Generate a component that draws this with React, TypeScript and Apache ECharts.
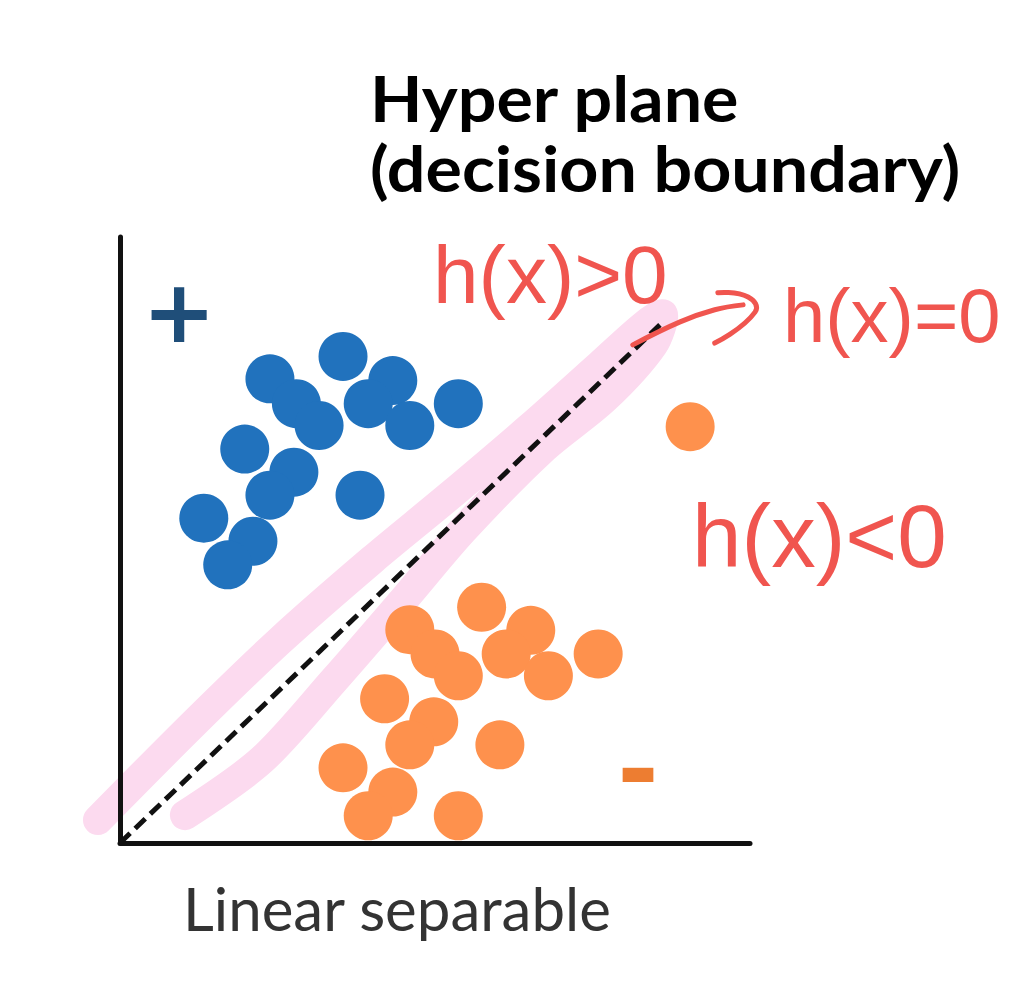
import React, { useEffect, useRef } from "react";
import * as echarts from "echarts";

// Positive class (+), blue
const positiveX = [3.54, 2.38, 4.33, 2.8, 3.94, 3.16, 5.37, 4.6, 1.98, 2.76, 2.38, 3.81, 1.33, 2.11, 1.71];
const positiveY = [8.03, 7.66, 7.63, 7.25, 7.25, 6.89, 7.25, 6.89, 6.5, 6.12, 5.74, 5.74, 5.36, 4.98, 4.59];

// Negative class (-), orange
const negativeX = [9.05, 5.74, 4.6, 6.52, 5.0, 6.13, 7.59, 5.37, 6.8, 4.2, 4.98, 4.6, 6.03, 3.54, 4.33, 3.94, 5.37];
const negativeY = [6.87, 3.89, 3.52, 3.51, 3.12, 3.12, 3.12, 2.76, 2.76, 2.38, 2.0, 1.62, 1.62, 1.24, 0.84, 0.45, 0.45];

// Decision boundary h(x) = 0
const boundaryX = [0, 8.57];
const boundaryY = [0, 8.55];

// Pink hand-drawn highlight around the boundary
const highlightX = [-0.35, 1.15, 2.55, 4.0, 5.2, 6.5, 7.62, 8.33, 8.62, 8.46, 7.7, 6.7, 5.45, 4.5, 3.4, 2.25, 1.03];
const highlightY = [0.38, 1.95, 3.35, 4.67, 5.7, 6.85, 7.89, 8.55, 8.72, 8.22, 7.34, 6.49, 5.17, 4.01, 2.69, 1.37, 0.46];

// Red hand-written arrow (shaft and head), in data units
const arrowShaftX = [8.14, 8.89, 9.44, 9.89];
const arrowShaftY = [8.22, 8.6, 8.8, 8.88];
const arrowHeadX = [9.49, 9.97, 10.08, 9.44];
const arrowHeadY = [9.08, 9.01, 8.76, 8.25];

const titleLines = ["Hyper plane", "(decision boundary)"];
const xLabel = "Linear separable";
const annotations = ["h(x)>0", "h(x)=0", "h(x)<0"];

const zip = (xs: number[], ys: number[]) => xs.map((x, i) => [x, ys[i]]);

export default function App() {
  const ref = useRef<HTMLDivElement>(null);
  useEffect(() => {
    const chart = echarts.init(ref.current!, null, { renderer: "svg" });
    const red = "#F0554F";
    const axisStyle = {
      type: "value",
      min: 0,
      max: 10,
      z: 2,
      axisLine: { show: true, onZero: false, lineStyle: { color: "#111", width: 5 } },
      axisTick: { show: false },
      axisLabel: { show: false },
      splitLine: { show: false },
    };
    chart.setOption({
      animation: false,
      backgroundColor: "#ffffff",
      grid: { left: 120, top: 237, width: 630, height: 606 },
      xAxis: { ...axisStyle },
      yAxis: { ...axisStyle },
      series: [
        {
          name: "boundary",
          type: "line",
          data: zip(boundaryX, boundaryY),
          symbol: "none",
          z: 3,
          lineStyle: { color: "#111", width: 5, type: [14, 7] },
        },
        {
          name: "positive",
          type: "scatter",
          data: zip(positiveX, positiveY),
          symbolSize: 49,
          z: 4,
          itemStyle: { color: "#2172BD", opacity: 1 },
        },
        {
          name: "negative",
          type: "scatter",
          data: zip(negativeX, negativeY),
          symbolSize: 49,
          z: 4,
          itemStyle: { color: "#FE914D", opacity: 1 },
        },
      ],
    });

    const toPx = (xs: number[], ys: number[]) =>
      zip(xs, ys).map((p) => chart.convertToPixel({ gridIndex: 0 }, p) as number[]);

    chart.setOption({
      graphic: [
        {
          type: "polyline",
          z: 1,
          shape: { points: toPx(highlightX, highlightY), smooth: 0.3 },
          style: { stroke: "#FCDAEF", lineWidth: 30, fill: "none", lineCap: "round", lineJoin: "round" },
        },
        {
          type: "text",
          x: 370,
          y: 97,
          z: 10,
          scaleX: 1.065,
          style: { text: titleLines[0], fontFamily: "Lato", fontWeight: "bold", fontSize: 64, fill: "#000", verticalAlign: "middle" },
        },
        {
          type: "text",
          x: 370,
          y: 167,
          z: 10,
          scaleX: 1.065,
          style: { text: titleLines[1], fontFamily: "Lato", fontWeight: "bold", fontSize: 64, fill: "#000", verticalAlign: "middle" },
        },
        {
          type: "text",
          x: 183,
          y: 908,
          z: 10,
          style: { text: xLabel, fontFamily: "Lato", fontSize: 60, fill: "#333", verticalAlign: "middle" },
        },
        {
          type: "text",
          x: 179,
          y: 311,
          z: 10,
          style: { text: "+", fontFamily: "DejaVu Sans", fontWeight: "bold", fontSize: 88, fill: "#1F4E79", align: "center", verticalAlign: "middle" },
        },
        {
          type: "text",
          x: 638,
          y: 769,
          z: 10,
          style: { text: "-", fontFamily: "DejaVu Sans", fontWeight: "bold", fontSize: 100, fill: "#ED7D31", align: "center", verticalAlign: "middle" },
        },
        {
          type: "text",
          x: 433,
          y: 274,
          z: 10,
          style: { text: annotations[0], fontFamily: "Liberation Sans", fontSize: 82, fill: red, verticalAlign: "middle" },
        },
        {
          type: "text",
          x: 783,
          y: 315,
          z: 10,
          style: { text: annotations[1], fontFamily: "Liberation Sans", fontSize: 76, fill: red, verticalAlign: "middle" },
        },
        {
          type: "text",
          x: 692,
          y: 536,
          z: 10,
          style: { text: annotations[2], fontFamily: "Liberation Sans", fontSize: 89, fill: red, verticalAlign: "middle" },
        },
        {
          type: "polyline",
          z: 10,
          shape: { points: toPx(arrowShaftX, arrowShaftY), smooth: 0.4 },
          style: { stroke: red, lineWidth: 5, fill: "none", lineCap: "round", lineJoin: "round" },
        },
        {
          type: "polyline",
          z: 10,
          shape: { points: toPx(arrowHeadX, arrowHeadY), smooth: 0.5 },
          style: { stroke: red, lineWidth: 5, fill: "none", lineCap: "round", lineJoin: "round" },
        },
      ],
    });
    return () => chart.dispose();
  }, []);
  return (
    <div
      ref={ref}
      style={{ position: "fixed", left: 0, top: 0, width: 1014, height: 1000, background: "#fff" }}
    />
  );
}
